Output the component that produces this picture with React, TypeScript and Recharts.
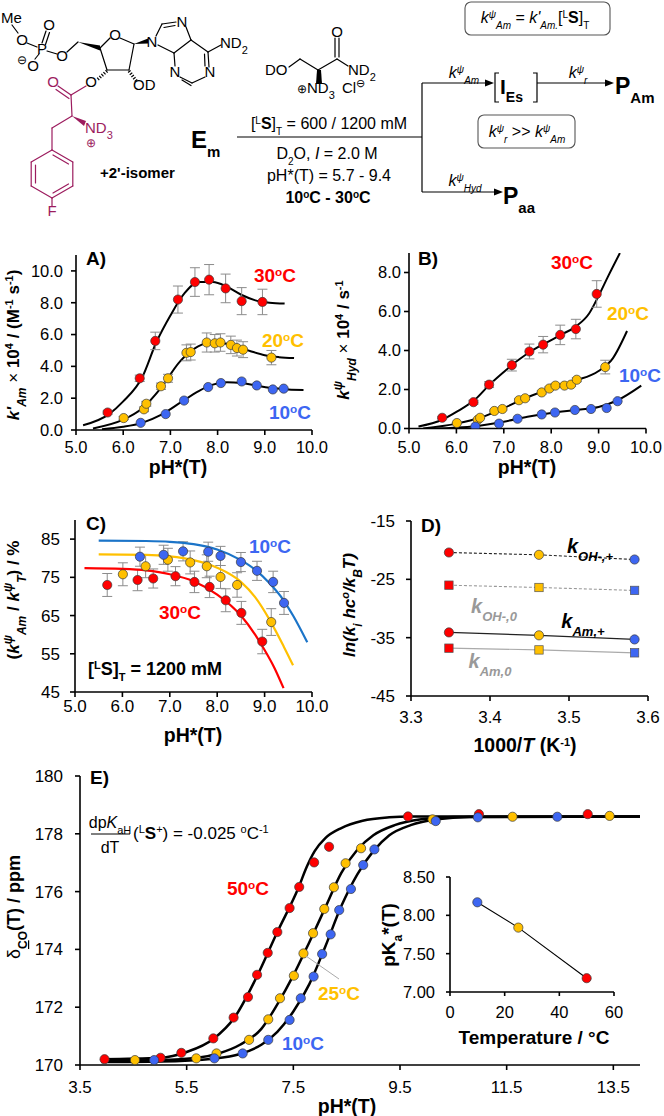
import React from 'react';
import { ComposedChart, Scatter, Line, XAxis, YAxis, ErrorBar } from 'recharts';

const FONT = '"Liberation Sans", Arial, Helvetica, sans-serif';
const RED = '#ff0000';
const GOLD = '#ffc000';
const BLUE = '#3d66f2';
const LINE_BLUE = '#1b74c8';
const PURPLE = '#9c1c5e';
const ERR = '#8c8c8c';

// ---- A) k'Am vs pH*
const aPh30 = [5.67, 6.35, 6.68, 7.16, 7.52, 7.82, 8.17, 8.51, 8.95];
const aK30 = [1.1, 3.25, 5.6, 8.2, 9.3, 9.45, 8.9, 8.1, 8.05];
const aErr30 = [0.1, 0.2, 0.55, 0.85, 0.9, 0.95, 0.9, 0.85, 0.8];
const aPh20 = [6.01, 6.44, 6.49, 6.8, 6.95, 7.34, 7.43, 7.77, 7.94, 8.06, 8.28, 8.41, 8.54, 9.14];
const aK20 = [0.75, 1.3, 1.65, 2.75, 3.25, 4.85, 4.9, 5.5, 5.45, 5.5, 5.35, 5.15, 5.05, 4.55];
const aErr20 = [0.1, 0.15, 0.15, 0.2, 0.25, 0.5, 0.5, 0.6, 0.55, 0.55, 0.55, 0.5, 0.5, 0.45];
const aPh10 = [6.37, 6.9, 7.29, 7.8, 8.07, 8.51, 8.83, 9.17, 9.4];
const aK10 = [0.45, 1.0, 1.85, 2.7, 2.95, 3.05, 2.8, 2.55, 2.6];
const aFitPh30 = [5.15, 5.7, 6.0, 6.4, 6.7, 7.0, 7.3, 7.6, 7.9, 8.2, 8.5, 8.8, 9.1, 9.42];
const aFit30 = [0.3, 1.0, 1.8, 3.3, 5.5, 7.2, 8.6, 9.3, 9.3, 9.0, 8.5, 8.15, 8.0, 7.95];
const aFitPh20 = [5.36, 6.0, 6.4, 6.8, 7.2, 7.5, 7.8, 8.1, 8.4, 8.7, 9.0, 9.3, 9.62];
const aFit20 = [0.1, 0.65, 1.35, 2.65, 4.3, 5.1, 5.45, 5.45, 5.25, 4.95, 4.7, 4.58, 4.52];
const aFitPh10 = [5.55, 6.0, 6.4, 6.8, 7.2, 7.6, 7.9, 8.2, 8.5, 8.8, 9.1, 9.5, 9.82];
const aFit10 = [0.05, 0.2, 0.45, 0.95, 1.7, 2.45, 2.85, 3.0, 2.95, 2.8, 2.65, 2.55, 2.52];

// ---- B) kHyd vs pH*
const bPh30 = [5.7, 6.36, 6.69, 7.17, 7.54, 7.83, 8.19, 8.52, 8.96];
const bK30 = [0.55, 1.35, 2.25, 3.25, 3.95, 4.3, 4.8, 5.1, 6.9];
const bErr30 = [0.05, 0.1, 0.15, 0.3, 0.38, 0.42, 0.5, 0.5, 0.68];
const bPh20 = [6.01, 6.45, 6.5, 6.8, 6.97, 7.32, 7.45, 7.8, 7.96, 8.09, 8.28, 8.42, 8.54, 9.14];
const bK20 = [0.28, 0.45, 0.55, 0.9, 1.0, 1.45, 1.55, 1.85, 2.05, 2.2, 2.2, 2.25, 2.5, 3.15];
const bErr20 = [0.03, 0.04, 0.04, 0.05, 0.05, 0.07, 0.07, 0.08, 0.08, 0.09, 0.09, 0.09, 0.1, 0.35];
const bPh10 = [6.4, 6.9, 7.29, 7.8, 8.08, 8.5, 8.84, 9.17, 9.4];
const bK10 = [0.1, 0.25, 0.5, 0.72, 0.82, 0.95, 1.0, 1.05, 1.4];
const bFitPh30 = [5.2, 5.7, 6.0, 6.4, 6.7, 7.0, 7.3, 7.6, 7.9, 8.2, 8.5, 8.8, 9.0, 9.2, 9.45];
const bFit30 = [0.1, 0.45, 0.85, 1.5, 2.25, 2.9, 3.5, 4.0, 4.4, 4.8, 5.2, 5.9, 6.8, 7.8, 9.0];
const bFitPh20 = [5.3, 6.0, 6.5, 7.0, 7.5, 8.0, 8.5, 9.0, 9.3, 9.6];
const bFit20 = [0.0, 0.25, 0.55, 1.05, 1.6, 2.05, 2.45, 2.95, 3.6, 5.0];
const bFitPh10 = [5.5, 6.4, 7.0, 7.5, 8.0, 8.5, 9.0, 9.4, 9.9];
const bFit10 = [0.0, 0.12, 0.35, 0.6, 0.8, 0.95, 1.1, 1.45, 2.2];

// ---- C) kAm / kT (%) vs pH*
const cPh10 = [6.37, 6.87, 7.28, 7.81, 8.07, 8.5, 8.84, 9.18, 9.41];
const cR10 = [80.4, 80.9, 81.8, 81.7, 80.6, 79.0, 76.7, 73.8, 68.3];
const cErr10 = [2.5, 2.5, 2.5, 2.5, 2.5, 2.5, 2.5, 2.8, 3.0];
const cPh20 = [6.01, 6.49, 6.96, 7.43, 7.78, 8.07, 8.42, 9.14];
const cR20 = [75.8, 77.9, 79.6, 78.9, 77.9, 75.1, 73.0, 63.3];
const cErr20 = [3.0, 3.0, 3.0, 3.0, 3.0, 3.0, 3.2, 3.5];
const cPh30 = [5.68, 6.32, 6.65, 7.12, 7.52, 7.84, 8.18, 8.51, 8.95];
const cR30 = [73.0, 74.3, 74.7, 75.3, 73.8, 72.5, 69.0, 65.7, 58.2];
const cErr30 = [3.0, 2.8, 2.5, 2.5, 2.8, 2.8, 3.0, 3.0, 3.2];
const cFitPh10 = [5.5, 6.5, 7.0, 7.5, 8.0, 8.5, 8.8, 9.1, 9.4, 9.6, 9.9];
const cFit10 = [84.6, 84.5, 84.3, 83.7, 82.3, 79.5, 77.0, 73.5, 69.0, 65.0, 58.0];
const cFitPh20 = [5.5, 6.5, 7.0, 7.5, 8.0, 8.5, 8.8, 9.1, 9.4, 9.6];
const cFit20 = [81.0, 80.9, 80.5, 79.5, 77.5, 73.8, 69.8, 64.0, 57.0, 52.0];
const cFitPh30 = [5.2, 6.0, 6.5, 7.0, 7.5, 8.0, 8.5, 8.8, 9.0, 9.2, 9.4];
const cFit30 = [77.4, 77.2, 76.8, 75.8, 74.0, 70.5, 65.0, 60.0, 56.0, 51.5, 46.0];

// ---- D) Eyring-type plot
const dInvT = [3.348, 3.462, 3.583];
const dOHplus = [-20.4, -20.8, -21.6];
const dOHzero = [-26.0, -26.4, -26.9];
const dAmPlus = [-34.1, -34.6, -35.3];
const dAmZero = [-36.8, -37.1, -37.6];

// ---- E) 13C shift titration
const ePh50 = [3.96, 5.01, 5.4, 6.0, 6.38, 6.65, 6.82, 7.02, 7.2, 7.43, 7.61, 7.89, 8.17, 9.65, 10.98, 13.02];
const eD50 = [170.2, 170.25, 170.42, 170.92, 171.64, 172.35, 173.12, 173.88, 174.6, 175.43, 176.16, 177.01, 177.55, 178.6, 178.68, 178.68];
const ePh25 = [4.53, 5.68, 6.06, 6.67, 7.03, 7.25, 7.51, 7.69, 7.87, 8.08, 8.26, 8.48, 8.77, 10.11, 11.61, 13.43];
const eD25 = [170.17, 170.23, 170.4, 170.87, 171.58, 172.31, 173.09, 173.86, 174.56, 175.4, 176.15, 176.98, 177.5, 178.5, 178.59, 178.62];
const ePh10 = [4.89, 6.02, 6.55, 7.03, 7.43, 7.64, 7.88, 8.04, 8.2, 8.36, 8.58, 8.81, 9.02, 10.17, 10.96, 12.45];
const eD10 = [170.17, 170.23, 170.4, 170.87, 171.56, 172.31, 173.06, 173.84, 174.52, 175.36, 176.09, 176.92, 177.46, 178.44, 178.57, 178.59];
const eFitPh50 = [3.9, 5.0, 5.5, 6.0, 6.4, 6.8, 7.2, 7.6, 7.75, 7.9, 8.1, 8.4, 8.8, 9.3, 9.7, 14.0];
const eFit50 = [170.2, 170.25, 170.45, 170.9, 171.65, 173.0, 174.6, 176.15, 176.85, 177.4, 177.85, 178.2, 178.45, 178.57, 178.6, 178.6];
const eFitPh25 = [3.9, 5.0, 5.7, 6.1, 6.5, 6.9, 7.2, 7.5, 7.8, 8.1, 8.4, 8.7, 9.0, 9.4, 9.9, 10.5, 14.0];
const eFit25 = [170.15, 170.17, 170.25, 170.4, 170.7, 171.25, 172.1, 173.1, 174.25, 175.45, 176.65, 177.45, 177.95, 178.3, 178.5, 178.58, 178.6];
const eFitPh10 = [3.9, 5.0, 6.0, 6.5, 6.9, 7.2, 7.5, 7.8, 8.1, 8.4, 8.7, 9.0, 9.3, 9.7, 10.2, 10.8, 14.0];
const eFit10 = [170.1, 170.12, 170.22, 170.38, 170.7, 171.15, 171.85, 172.8, 174.1, 175.5, 176.6, 177.4, 177.95, 178.3, 178.5, 178.58, 178.6];

// ---- E inset) pKa* vs temperature
const insetT = [10, 25, 50];
const insetPka = [8.17, 7.84, 7.18];

const pts = (xs: number[], ys: number[], es?: number[]) =>
  xs.map((x, i) => ({ x, y: ys[i], e: es ? es[i] : 0 }));

const dot = (fill: string, r = 4.6) => (p: any) =>
  <circle cx={p.cx} cy={p.cy} r={r} fill={fill} stroke="#3a3a3a" strokeWidth={0.7} />;
const square = (fill: string) => (p: any) =>
  <rect x={p.cx - 4.2} y={p.cy - 4.2} width={8.4} height={8.4} fill={fill} stroke="#555" strokeWidth={0.7} />;

const axisLine = { stroke: '#000', strokeWidth: 1.6 };

type PanelProps = {
  box: number[];
  plot: { l: number; r: number; t: number; b: number };
  xDomain: number[]; xTicks: number[]; xDigits: number;
  yDomain: number[]; yTicks: number[]; yDigits: number;
  xMargin: number; yMargin: number; fontSize: number; tickSize?: number;
  children: any;
};

function Panel(p: PanelProps) {
  const [left, top, width, height] = p.box;
  const tick = { fill: '#000', fontSize: p.fontSize, fontFamily: FONT };
  const ts = p.tickSize ?? 5;
  return (
    <div style={{ position: 'absolute', left, top, width, height }}>
      <ComposedChart width={width} height={height} margin={{ top: p.plot.t, right: p.plot.r, bottom: 0, left: 0 }}>
        <XAxis type="number" dataKey="x" domain={p.xDomain} ticks={p.xTicks} interval={0} allowDataOverflow
          height={p.plot.b} tickFormatter={(v: number) => v.toFixed(p.xDigits)} tick={tick}
          axisLine={axisLine} tickLine={axisLine} tickSize={ts} tickMargin={p.xMargin} />
        <YAxis type="number" dataKey="y" domain={p.yDomain} ticks={p.yTicks} interval={0} allowDataOverflow
          width={p.plot.l} tickFormatter={(v: number) => v.toFixed(p.yDigits)} tick={tick}
          axisLine={axisLine} tickLine={axisLine} tickSize={ts} tickMargin={p.yMargin} />
        {p.children}
      </ComposedChart>
    </div>
  );
}

const curve = (key: string, xs: number[], ys: number[], color = '#000', w = 2) => (
  <Line key={key} data={pts(xs, ys)} dataKey="y" type="monotone" stroke={color} strokeWidth={w}
    dot={false} activeDot={false} isAnimationActive={false} />
);
const straight = (key: string, xs: number[], ys: number[], color: string, dash?: string) => (
  <Line key={key} data={pts(xs, ys)} dataKey="y" type="linear" stroke={color} strokeWidth={1.1}
    strokeDasharray={dash} dot={false} activeDot={false} isAnimationActive={false} />
);
const points = (key: string, xs: number[], ys: number[], fill: string, es?: number[], shape?: any) => (
  <Scatter key={key} data={pts(xs, ys, es)} dataKey="y" shape={shape ?? dot(fill)} isAnimationActive={false}>
    {es ? <ErrorBar dataKey="e" direction="y" width={5} stroke={ERR} strokeWidth={1} isAnimationActive={false} /> : null}
  </Scatter>
);

const Sup = ({ children, size = 11 }: any) => <tspan baselineShift="super" fontSize={size}>{children}</tspan>;
const Sub = ({ children, size = 11 }: any) => <tspan baselineShift="sub" fontSize={size}>{children}</tspan>;
const It = ({ children }: any) => <tspan fontStyle="italic">{children}</tspan>;

const Temp = ({ x, y, c, t, size = 19 }: any) => (
  <text x={x} y={y} fill={c} fontWeight="bold" fontSize={size} textAnchor="middle">
    {t}<Sup size={size * 0.62}>o</Sup>C
  </text>
);

const Kpsi = ({ sub }: any) => (
  <tspan fontStyle="italic">k<Sup size={10}>ψ</Sup><Sub size={10}>{sub}</Sub></tspan>
);

// structure drawing strokes (diagram only)
const blackBonds = [
  [12, 25, 18, 33], [27, 43, 37, 47], [42, 43, 46, 31], [45.5, 44.5, 49.5, 32.5], [47, 51, 57, 54], [39, 54, 35, 59],
  [67, 52, 78, 42], [100, 48, 110, 38], [120, 38, 134, 44], [134, 44, 129, 70], [129, 70, 107, 70], [107, 70, 100, 48],
  [156, 36, 162, 24], [162, 24, 176, 22], [164, 27.5, 175, 25.5], [186, 27, 191, 40], [191, 40, 174, 53], [174, 53, 158, 45],
  [174, 53, 175, 66], [180, 77, 192, 83], [182, 80, 191, 85.5], [192, 83, 205, 77], [209, 67, 208, 52], [205, 66, 204.5, 54],
  [208, 52, 191, 40], [208, 52, 221, 45],
  [289, 67, 300, 59], [300, 59, 318, 70], [318, 70, 337, 59], [335, 57, 335, 38], [339, 57, 339, 38], [337, 59, 348, 66],
];
const purpleBonds = [
  [86, 86, 71, 95], [71, 95, 58, 86], [69, 98.5, 56, 89.5], [71, 95, 72, 116], [72, 116, 52, 128], [52, 128, 52, 150],
  [52, 150, 72.8, 162], [72.8, 162, 72.8, 186], [72.8, 186, 52, 198], [52, 198, 31.2, 186], [31.2, 186, 31.2, 162], [31.2, 162, 52, 150],
  [53, 155, 68.5, 164], [68.5, 184, 53, 193], [35.5, 183, 35.5, 165], [52, 198, 52, 206],
];

function Overlay() {
  return (
    <svg width={664} height={1116} style={{ position: 'absolute', left: 0, top: 0, pointerEvents: 'none' }}
      fontFamily={FONT}>
      {/* ---------- scheme ---------- */}
      <g stroke="#000" strokeWidth={1.2} strokeLinecap="round">
        {blackBonds.map((b, i) => <line key={i} x1={b[0]} y1={b[1]} x2={b[2]} y2={b[3]} />)}
      </g>
      <g stroke={PURPLE} strokeWidth={1.2} strokeLinecap="round">
        {purpleBonds.map((b, i) => <line key={i} x1={b[0]} y1={b[1]} x2={b[2]} y2={b[3]} />)}
      </g>
      <polygon points="78,42 100,45.5 100,50.5" fill="#000" />
      <polygon points="134,44 148,38.5 148,43.5" fill="#000" />
      <polygon points="316,70 320,70 321,84 315,84" fill="#000" transform="translate(1,0)" />
      <polygon points="72,116 86,121 84,126" fill={PURPLE} />
      <line x1={129} y1={71} x2={137} y2={82} stroke="#000" strokeWidth={3.2} strokeDasharray="1.2 1.6" />
      <line x1={107} y1={71} x2={97} y2={80} stroke="#000" strokeWidth={3.2} strokeDasharray="1.2 1.6" />
      <g fontSize={15} fill="#000">
        <text x={1} y={23}>Me</text>
        <text x={22} y={45} textAnchor="middle">O</text>
        <text x={42} y={54} textAnchor="middle">P</text>
        <text x={49} y={30} textAnchor="middle">O</text>
        <text x={62} y={61} textAnchor="middle">O</text>
        <text x={33} y={71} textAnchor="middle">O</text>
        <text x={22} y={64} textAnchor="middle" fontSize={12}>⊖</text>
        <text x={115} y={40} textAnchor="middle">O</text>
        <text x={152} y={47} textAnchor="middle">N</text>
        <text x={182} y={27} textAnchor="middle">N</text>
        <text x={175} y={77} textAnchor="middle">N</text>
        <text x={210} y={77} textAnchor="middle">N</text>
        <text x={220} y={48}>ND<Sub size={11}>2</Sub></text>
        <text x={133} y={90}>OD</text>
        <text x={91} y={87} textAnchor="middle">O</text>
        <text x={265} y={75}>DO</text>
        <text x={337} y={37} textAnchor="middle">O</text>
        <text x={348} y={75}>ND<Sub size={11}>2</Sub></text>
        <text x={297} y={93}><tspan fontSize={12}>⊕</tspan>ND<Sub size={11}>3</Sub></text>
        <text x={342} y={93}>Cl<Sup size={11}>⊖</Sup></text>
      </g>
      <g fontSize={15} fill={PURPLE}>
        <text x={53} y={87} textAnchor="middle">O</text>
        <text x={85} y={133}>ND<Sub size={11}>3</Sub></text>
        <text x={91} y={147} textAnchor="middle" fontSize={12}>⊕</text>
        <text x={52} y={216} textAnchor="middle">F</text>
      </g>
      <text x={100} y={178} fontSize={15} fontWeight="bold">+2'-isomer</text>
      <text x={191} y={148} fontSize={24} fontWeight="bold">E<Sub size={15}>m</Sub></text>

      {/* reaction arrows */}
      <g stroke="#000" strokeWidth={1.2}>
        <line x1={237} y1={137} x2={422} y2={137} />
        <line x1={422} y1={83} x2={422} y2={192} />
        <line x1={422} y1={83} x2={488} y2={83} />
        <line x1={537} y1={83} x2={608} y2={83} />
        <line x1={422} y1={192} x2={497} y2={192} />
        <polyline points="499,73 495,73 495,102 499,102" fill="none" />
        <polyline points="533,73 537,73 537,102 533,102" fill="none" />
      </g>
      <polygon points="494,83 485,79.5 485,86.5" fill="#000" />
      <polygon points="614,83 605,79.5 605,86.5" fill="#000" />
      <polygon points="503,192 494,188.5 494,195.5" fill="#000" />
      <rect x={465} y={2} width={145} height={33} rx={6} fill="none" stroke="#555" strokeWidth={1.1} />
      <rect x={478} y={115} width={97} height={33} rx={6} fill="none" stroke="#555" strokeWidth={1.1} />
      <g fontSize={16} fill="#000" textAnchor="middle">
        <text x={329} y={129}>[<Sup size={10}>L</Sup><tspan fontWeight="bold">S</tspan>]<Sub size={10}>T</Sub> = 600 / 1200 mM</text>
        <text x={327} y={159}>D<Sub size={10}>2</Sub>O, <It>I</It> = 2.0 M</text>
        <text x={329} y={181}>pH*(T) = 5.7 - 9.4</text>
        <text x={328} y={203} fontWeight="bold">10<Sup size={10}>o</Sup>C - 30<Sup size={10}>o</Sup>C</text>
        <text x={464} y={78}><Kpsi sub="Am" /></text>
        <text x={578} y={78}><Kpsi sub="r" /></text>
        <text x={465} y={186}><Kpsi sub="Hyd" /></text>
        <text x={535} y={23}><Kpsi sub="Am" /> = <It>k'</It><Sub size={10}><It>Am.</It></Sub>[<Sup size={10}>L</Sup><tspan fontWeight="bold">S</tspan>]<Sub size={10}>T</Sub></text>
        <text x={527} y={137}><Kpsi sub="r" /> &gt;&gt; <Kpsi sub="Am" /></text>
      </g>
      <text x={500} y={94} fontSize={21} fontWeight="bold">I<Sub size={14}>Es</Sub></text>
      <text x={615} y={94} fontSize={23} fontWeight="bold">P<Sub size={15}>Am</Sub></text>
      <text x={503} y={204} fontSize={23} fontWeight="bold">P<Sub size={15}>aa</Sub></text>

      {/* ---------- A ---------- */}
      <text x={86} y={265} fontSize={19} fontWeight="bold">A)</text>
      <Temp x={275} y={282} c={RED} t="30" />
      <Temp x={283} y={347} c={GOLD} t="20" />
      <Temp x={290} y={419} c={BLUE} t="10" />
      <text x={178} y={474} fontSize={19.5} fontWeight="bold" textAnchor="middle">pH*(T)</text>
      <text transform="translate(19,345) rotate(-90)" fontSize={17} fontWeight="bold" textAnchor="middle">
        <It>k'</It><Sub size={12}><It>Am</It></Sub> <tspan fontWeight="normal">×</tspan> 10<Sup size={11}>4</Sup> / (M<Sup size={11}>-1</Sup> s<Sup size={11}>-1</Sup>)
      </text>

      {/* ---------- B ---------- */}
      <text x={418} y={265} fontSize={19} fontWeight="bold">B)</text>
      <Temp x={572} y={269} c={RED} t="30" />
      <Temp x={628} y={320} c={GOLD} t="20" />
      <Temp x={640} y={382} c={BLUE} t="10" />
      <text x={527} y={474} fontSize={19.5} fontWeight="bold" textAnchor="middle">pH*(T)</text>
      <text transform="translate(349,340) rotate(-90)" fontSize={17} fontWeight="bold" textAnchor="middle">
        <It>k</It><Sup size={12}><It>ψ</It></Sup><Sub size={12}><It>Hyd</It></Sub> <tspan fontWeight="normal">×</tspan> 10<Sup size={11}>4</Sup> / s<Sup size={11}>-1</Sup>
      </text>

      {/* ---------- C ---------- */}
      <text x={86} y={530} fontSize={19} fontWeight="bold">C)</text>
      <Temp x={270} y={553} c={BLUE} t="10" />
      <Temp x={180} y={619} c={RED} t="30" />
      <text x={155} y={675} fontSize={18} fontWeight="bold" textAnchor="middle">
        [<Sup size={11}>L</Sup>S]<Sub size={11}>T</Sub> = 1200 mM
      </text>
      <text x={193} y={742} fontSize={19.5} fontWeight="bold" textAnchor="middle">pH*(T)</text>
      <text transform="translate(19,600) rotate(-90)" fontSize={17} fontWeight="bold" textAnchor="middle">
        (<It>k</It><Sup size={12}><It>ψ</It></Sup><Sub size={12}><It>Am</It></Sub> / <It>k</It><Sup size={12}><It>ψ</It></Sup><Sub size={12}><It>T</It></Sub>) / %
      </text>

      {/* ---------- D ---------- */}
      <text x={421} y={532} fontSize={19} fontWeight="bold">D)</text>
      <text x={590} y={553} fontSize={20} fontWeight="bold" fontStyle="italic" textAnchor="middle">k<Sub size={13}>OH-,+</Sub></text>
      <text x={494} y={613} fontSize={20} fontWeight="bold" fontStyle="italic" textAnchor="middle" fill="#999">k<Sub size={13}>OH-,0</Sub></text>
      <text x={583} y={628} fontSize={20} fontWeight="bold" fontStyle="italic" textAnchor="middle">k<Sub size={13}>Am,+</Sub></text>
      <text x={490} y={668} fontSize={20} fontWeight="bold" fontStyle="italic" textAnchor="middle" fill="#999">k<Sub size={13}>Am,0</Sub></text>
      <text x={525} y={752} fontSize={19.5} fontWeight="bold" textAnchor="middle">1000/<It>T</It> (K<Sup size={11}>-1</Sup>)</text>
      <text transform="translate(355,605) rotate(-90)" fontSize={17} fontWeight="bold" fontStyle="italic" textAnchor="middle">
        ln(k<Sub size={12}>i</Sub> hc<Sup size={11}>o</Sup>/k<Sub size={12}>B</Sub>T)
      </text>

      {/* ---------- E ---------- */}
      <text x={90} y={784} fontSize={19} fontWeight="bold">E)</text>
      <text x={110} y={828} fontSize={16} textAnchor="middle">dp<It>K</It><Sub size={11}>aH</Sub></text>
      <line x1={91} y1={834} x2={130} y2={834} stroke="#000" strokeWidth={1} />
      <text x={110} y={853} fontSize={16} textAnchor="middle">dT</text>
      <text x={133} y={839} fontSize={17}>(<Sup size={11}>L</Sup><tspan fontWeight="bold">S</tspan><Sup size={11}>+</Sup>) = -0.025 <Sup size={11}>o</Sup>C<Sup size={11}>-1</Sup></text>
      <Temp x={248} y={895} c={RED} t="50" />
      <Temp x={339} y={1000} c={GOLD} t="25" />
      <Temp x={303} y={1050} c={BLUE} t="10" />
      <line x1={306} y1={956} x2={339} y2={979} stroke="#aaa" strokeWidth={1} />
      <text x={347} y={1113} fontSize={19.5} fontWeight="bold" textAnchor="middle">pH*(T)</text>
      <text transform="translate(20,907) rotate(-90)" fontSize={18} fontWeight="bold" textAnchor="middle">
        <tspan fontWeight="normal">δ</tspan><Sub size={12}><tspan textDecoration="underline">C</tspan>O</Sub>(T) / ppm
      </text>
      <text transform="translate(395,935) rotate(-90)" fontSize={19} fontWeight="bold" textAnchor="middle">
        pK<Sub size={12}>a</Sub>*(T)
      </text>
      <text x={534} y={1044} fontSize={19} fontWeight="bold" textAnchor="middle">Temperature / °C</text>
    </svg>
  );
}

export default function App() {
  return (
    <div style={{ position: 'absolute', left: 0, top: 0, width: 664, height: 1116, background: '#fff', fontFamily: FONT, overflow: 'hidden' }}>
      <Panel box={[0, 215, 332, 270]} plot={{ l: 76, r: 20, t: 40, b: 55 }}
        xDomain={[5, 10]} xTicks={[5, 6, 7, 8, 9, 10]} xDigits={1}
        yDomain={[0, 11]} yTicks={[0, 2, 4, 6, 8, 10]} yDigits={1}
        xMargin={6} yMargin={8} fontSize={16.5}>
        {[
          curve('f30', aFitPh30, aFit30), curve('f20', aFitPh20, aFit20), curve('f10', aFitPh10, aFit10),
          points('p30', aPh30, aK30, RED, aErr30), points('p20', aPh20, aK20, GOLD, aErr20), points('p10', aPh10, aK10, BLUE),
        ]}
      </Panel>
      <Panel box={[332, 215, 332, 270]} plot={{ l: 77, r: 18, t: 38, b: 56.5 }}
        xDomain={[5, 10]} xTicks={[5, 6, 7, 8, 9, 10]} xDigits={1}
        yDomain={[0, 9]} yTicks={[0, 2, 4, 6, 8]} yDigits={1}
        xMargin={8} yMargin={3} fontSize={16.5}>
        {[
          curve('f30', bFitPh30, bFit30), curve('f20', bFitPh20, bFit20), curve('f10', bFitPh10, bFit10),
          points('p30', bPh30, bK30, RED, bErr30), points('p20', bPh20, bK20, GOLD, bErr20), points('p10', bPh10, bK10, BLUE),
        ]}
      </Panel>
      <Panel box={[0, 485, 332, 260]} plot={{ l: 75, r: 20, t: 35, b: 53 }}
        xDomain={[5, 10]} xTicks={[5, 6, 7, 8, 9, 10]} xDigits={1}
        yDomain={[45, 90]} yTicks={[45, 55, 65, 75, 85]} yDigits={0}
        xMargin={3} yMargin={10} fontSize={17}>
        {[
          points('p30', cPh30, cR30, RED, cErr30), points('p20', cPh20, cR20, GOLD, cErr20), points('p10', cPh10, cR10, BLUE, cErr10),
          curve('f10', cFitPh10, cFit10, LINE_BLUE, 2.2), curve('f20', cFitPh20, cFit20, GOLD, 2.2), curve('f30', cFitPh30, cFit30, RED, 2.2),
        ]}
      </Panel>
      <Panel box={[332, 485, 332, 260]} plot={{ l: 79, r: 16, t: 36, b: 49 }}
        xDomain={[3.3, 3.6]} xTicks={[3.3, 3.4, 3.5, 3.6]} xDigits={1}
        yDomain={[-45, -15]} yTicks={[-45, -35, -25, -15]} yDigits={0}
        xMargin={10} yMargin={11} fontSize={17}>
        {[
          straight('l1', dInvT, dAmZero, '#aaa'), straight('l2', dInvT, dAmPlus, '#222'),
          points('q1', dInvT.slice(0, 1), dAmZero.slice(0, 1), RED, undefined, square(RED)),
          points('q2', dInvT.slice(1, 2), dAmZero.slice(1, 2), GOLD, undefined, square(GOLD)),
          points('q3', dInvT.slice(2), dAmZero.slice(2), BLUE, undefined, square(BLUE)),
          points('c1', dInvT.slice(0, 1), dAmPlus.slice(0, 1), RED),
          points('c2', dInvT.slice(1, 2), dAmPlus.slice(1, 2), GOLD),
          points('c3', dInvT.slice(2), dAmPlus.slice(2), BLUE),
          points('s1', dInvT.slice(0, 1), dOHzero.slice(0, 1), RED, undefined, square(RED)),
          points('s2', dInvT.slice(1, 2), dOHzero.slice(1, 2), GOLD, undefined, square(GOLD)),
          points('s3', dInvT.slice(2), dOHzero.slice(2), BLUE, undefined, square(BLUE)),
          points('o1', dInvT.slice(0, 1), dOHplus.slice(0, 1), RED),
          points('o2', dInvT.slice(1, 2), dOHplus.slice(1, 2), GOLD),
          points('o3', dInvT.slice(2), dOHplus.slice(2), BLUE),
          straight('l3', dInvT, dOHzero, '#999', '3 2'), straight('l4', dInvT, dOHplus, '#222', '3 2'),
        ]}
      </Panel>
      <Panel box={[0, 725, 664, 391]} plot={{ l: 80, r: 24, t: 51, b: 51 }}
        xDomain={[3.5, 14]} xTicks={[3.5, 5.5, 7.5, 9.5, 11.5, 13.5]} xDigits={1}
        yDomain={[170, 180]} yTicks={[170, 172, 174, 176, 178, 180]} yDigits={0}
        xMargin={11} yMargin={12} fontSize={17}>
        {[
          curve('f50', eFitPh50, eFit50, '#000', 2.5), curve('f25', eFitPh25, eFit25, '#000', 2.5), curve('f10', eFitPh10, eFit10, '#000', 2.5),
          points('p50', ePh50, eD50, RED), points('p25', ePh25, eD25, GOLD), points('p10', ePh10, eD10, BLUE),
        ]}
      </Panel>
      <Panel box={[370, 860, 280, 200]} plot={{ l: 80, r: 36, t: 17, b: 68 }}
        xDomain={[0, 60]} xTicks={[0, 20, 40, 60]} xDigits={0}
        yDomain={[7, 8.5]} yTicks={[7, 7.5, 8, 8.5]} yDigits={2}
        xMargin={10} yMargin={11} fontSize={16.5} tickSize={4}>
        {[
          straight('fit', insetT, insetPka, '#000'),
          points('p', insetT.slice(0, 1), insetPka.slice(0, 1), BLUE),
          points('q', insetT.slice(1, 2), insetPka.slice(1, 2), GOLD),
          points('r', insetT.slice(2), insetPka.slice(2), RED),
        ]}
      </Panel>
      <Overlay />
    </div>
  );
}
